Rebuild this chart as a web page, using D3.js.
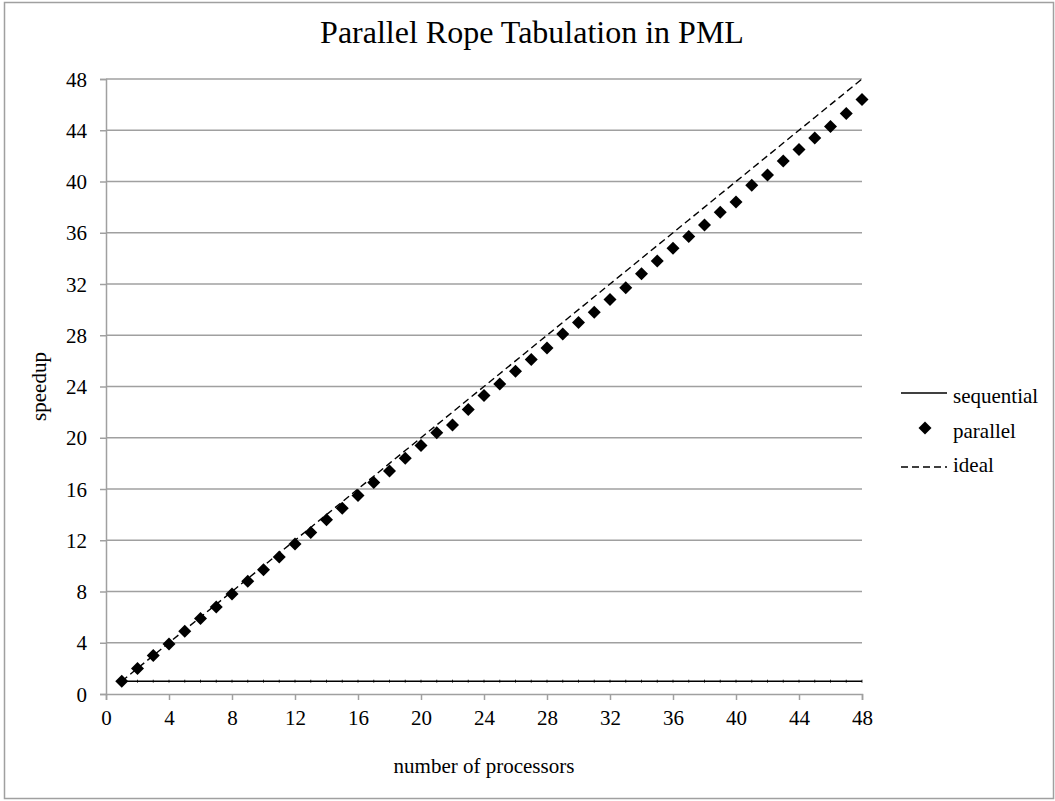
<!DOCTYPE html>
<html><head><meta charset="utf-8">
<script src="https://cdn.jsdelivr.net/npm/d3@7"></script>
<style>body{margin:0;background:#fff}svg{display:block}text{font-family:"Liberation Serif","Times New Roman",serif;fill:#000}</style>
</head><body>
<svg id="c" width="1055" height="801"></svg>
<script>
const processors = d3.range(1, 49);
const sequential = processors.map(() => 1);
const parallel = [1.0,2.0,3.0,3.9,4.9,5.9,6.8,7.8,8.8,9.7,10.7,11.7,12.6,13.6,14.5,15.5,16.5,17.4,18.4,19.4,20.4,21.0,22.2,23.3,24.2,25.2,26.1,27.0,28.1,29.0,29.8,30.8,31.7,32.8,33.8,34.8,35.7,36.6,37.6,38.4,39.7,40.5,41.6,42.5,43.4,44.3,45.3,46.4];
const ideal = processors.slice();
const xTicks = d3.range(0, 49, 4);
const yTicks = d3.range(0, 49, 4);
const title = "Parallel Rope Tabulation in PML";
const xTitle = "number of processors";
const yTitle = "speedup";
const legendLabels = ["sequential", "parallel", "ideal"];

const svg = d3.select("#c");
const grid = "#a0a0a0";
const x = d3.scaleLinear().domain([0, 48]).range([106, 862]);
const y = d3.scaleLinear().domain([0, 48]).range([694, 79]);

// frame
svg.append("rect").attr("x", 4.5).attr("y", 2.5).attr("width", 1049).attr("height", 796)
  .attr("fill", "none").attr("stroke", grid).attr("stroke-width", 1.5);

// title
svg.append("text").attr("x", 532).attr("y", 43).attr("text-anchor", "middle")
  .style("font-size", "32px").text(title);

// gridlines
svg.append("g").selectAll("line").data(yTicks.filter(d => d > 0)).join("line")
  .attr("x1", x(0)).attr("x2", x(48)).attr("y1", d => y(d)).attr("y2", d => y(d))
  .attr("stroke", grid).attr("stroke-width", 1.5);

// axes
const xAxis = svg.append("g").attr("transform", `translate(0,${y(0)})`)
  .call(d3.axisBottom(x).tickValues(xTicks).tickSizeOuter(0).tickSize(6).tickPadding(10));
const yAxis = svg.append("g").attr("transform", `translate(${x(0)},0)`)
  .call(d3.axisLeft(y).tickValues(yTicks).tickSizeOuter(0).tickSize(6).tickPadding(13));
[xAxis, yAxis].forEach(a => {
  a.attr("font-family", null);
  a.select(".domain").attr("stroke", grid).attr("stroke-width", 1.5);
  a.selectAll(".tick line").attr("stroke", grid).attr("stroke-width", 1.5);
  a.selectAll(".tick text").style("font-size", "21px").attr("fill", "#000");
});
xAxis.selectAll(".tick text").attr("dy", "0.71em");
yAxis.selectAll(".tick text").attr("dy", "0.34em");

// axis titles
svg.append("text").attr("x", 484).attr("y", 773).attr("text-anchor", "middle")
  .style("font-size", "21px").text(xTitle);
svg.append("text").attr("transform", `translate(46,${(y(0)+y(48))/2}) rotate(-90)`)
  .attr("text-anchor", "middle").style("font-size", "21px").text(yTitle);

// sequential
svg.append("path").datum(processors)
  .attr("d", d3.line().x(d => x(d)).y((d, i) => y(sequential[i])))
  .attr("fill", "none").attr("stroke", "#000").attr("stroke-width", 1.6);
svg.append("g").selectAll("line").data(processors).join("line")
  .attr("x1", d => x(d)).attr("x2", d => x(d))
  .attr("y1", (d, i) => y(sequential[i]) - 1.5).attr("y2", (d, i) => y(sequential[i]) + 1.5)
  .attr("stroke", "#000").attr("stroke-width", 0.8);

// ideal
svg.append("path").datum(processors)
  .attr("d", d3.line().x(d => x(d)).y((d, i) => y(ideal[i])))
  .attr("fill", "none").attr("stroke", "#000").attr("stroke-width", 1.4)
  .attr("stroke-dasharray", "7,4");

// parallel diamonds
const dia = "M0,-6.5L6.5,0L0,6.5L-6.5,0Z";
svg.append("g").selectAll("path").data(processors).join("path")
  .attr("d", dia)
  .attr("transform", (d, i) => `translate(${x(d)},${y(parallel[i])})`)
  .attr("fill", "#000");

// legend
const lg = svg.append("g");
lg.append("line").attr("x1", 901).attr("x2", 947).attr("y1", 393).attr("y2", 393)
  .attr("stroke", "#000").attr("stroke-width", 1.6);
lg.append("path").attr("d", dia).attr("transform", "translate(925,428)").attr("fill", "#000");
lg.append("line").attr("x1", 901).attr("x2", 947).attr("y1", 467).attr("y2", 467)
  .attr("stroke", "#000").attr("stroke-width", 1.4).attr("stroke-dasharray", "7,4");
lg.selectAll("text").data(legendLabels).join("text")
  .attr("x", 953).attr("y", (d, i) => [403, 438, 472][i])
  .style("font-size", "21px").text(d => d);
</script>
</body></html>
